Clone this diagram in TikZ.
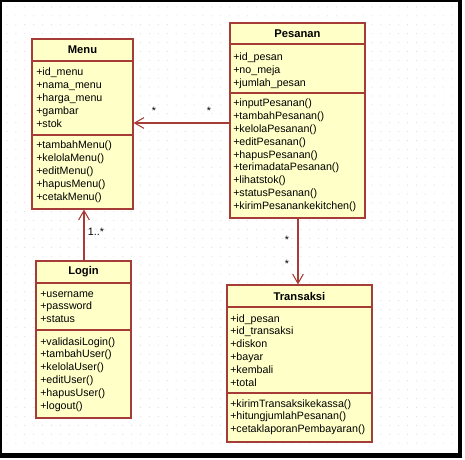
\documentclass[tikz,border=0pt]{standalone}
\usepackage{fontspec}
\setmainfont{Liberation Sans}
\usetikzlibrary{arrows.meta,fit}
\definecolor{umlfill}{RGB}{255,255,200}
\definecolor{umlline}{RGB}{165,60,55}
\definecolor{dotc}{RGB}{222,222,222}
\newcommand\umllines[4]{%
  \foreach \t [count=\i] in {#4}
    \node[txt] (#1\i) at (#2,{#3+12.8*(\i-1)}) {\t};}
\begin{document}
\begin{tikzpicture}[x=0.75pt,y=-0.75pt,
  comp/.style={draw=umlline,fill=umlfill,line width=0.8pt,inner sep=0pt},
  ttl/.style={font=\fontsize{8.4}{9}\selectfont\bfseries},
  txt/.style={anchor=base west,inner sep=0pt,font=\fontsize{8}{9}\selectfont},
  mult/.style={inner sep=0pt,font=\fontsize{8}{9}\selectfont},
  assoc/.style={draw=umlline,line width=0.8pt,-{Straight Barb[length=7pt,width=8pt]}}]
\useasboundingbox (0,0) rectangle (465,460);
\fill[white] (0,0) rectangle (465,460);
% grid dots
\foreach \gx in {7,15.9,...,456} \foreach \gy in {7,15.9,...,450}
  \fill[dotc] (\gx,\gy) circle (0.45pt);
% frame
\draw[line width=1.6pt] (1.2,1.2) rectangle (459,455);
\fill (457.5,0) rectangle (462,457.5);
\fill (0,453) rectangle (462,457.5);
% Menu
\node[comp,fit={(32,39) (133,61)}] (menuT) {};
\node[ttl] (menuN) at (menuT.center) {Menu};
\node[comp,fit={(32,61) (133,135)}] (menuA) {};
\node[comp,fit={(32,135) (133,209)}] (menuM) {};
\umllines{menuAt}{36}{76}{+id\_menu,+nama\_menu,+harga\_menu,+gambar,+stok}
\umllines{menuMt}{36}{149}{+tambahMenu(),+kelolaMenu(),+editMenu(),+hapusMenu(),+cetakMenu()}
% Pesanan
\node[comp,fit={(230,23) (365,44)}] (pesT) {};
\node[ttl] (pesN) at (pesT.center) {Pesanan};
\node[comp,fit={(230,44) (365,93)}] (pesA) {};
\node[comp,fit={(230,93) (365,218)}] (pesM) {};
\umllines{pesAt}{233}{61}{+id\_pesan,+no\_meja,+jumlah\_pesan}
\umllines{pesMt}{233}{107}{+inputPesanan(),+tambahPesanan(),+kelolaPesanan(),+editPesanan(),+hapusPesanan(),+terimadataPesanan(),+lihatstok(),+statusPesanan(),+kirimPesanankekitchen()}
% Login
\node[comp,fit={(36,261) (131,283)}] (logT) {};
\node[ttl] (logN) at (logT.center) {Login};
\node[comp,fit={(36,283) (131,330)}] (logA) {};
\node[comp,fit={(36,330) (131,418)}] (logM) {};
\umllines{logAt}{40}{297}{+username,+password,+status}
\umllines{logMt}{40}{345}{+validasiLogin(),+tambahUser(),+kelolaUser(),+editUser(),+hapusUser(),+logout()}
% Transaksi
\node[comp,fit={(227,285) (372,307)}] (trT) {};
\node[ttl] (trN) at (trT.center) {Transaksi};
\node[comp,fit={(227,307) (372,393)}] (trA) {};
\node[comp,fit={(227,393) (372,442)}] (trM) {};
\umllines{trAt}{230}{322}{+id\_pesan,+id\_transaksi,+diskon,+bayar,+kembali,+total}
\umllines{trMt}{230}{407}{+kirimTransaksikekassa(),+hitungjumlahPesanan(),+cetaklaporanPembayaran()}
% connectors
\coordinate (hy) at (0,123);
\draw[assoc] (pesM.west |- hy) -- (menuA.east |- hy);
\coordinate (lx) at (84,0);
\draw[assoc] (logT.north -| lx) -- (menuM.south -| lx);
\coordinate (tx) at (298,0);
\draw[assoc] (pesM.south -| tx) -- (trT.north -| tx);
% multiplicities
\node[mult] (m1) at (154,111) {*};
\node[mult] (m2) at (209,111) {*};
\node[mult] (m3) at (96,232) {1..*};
\node[mult] (m4) at (287,240) {*};
\node[mult] (m5) at (287,264) {*};
\end{tikzpicture}
\end{document}
